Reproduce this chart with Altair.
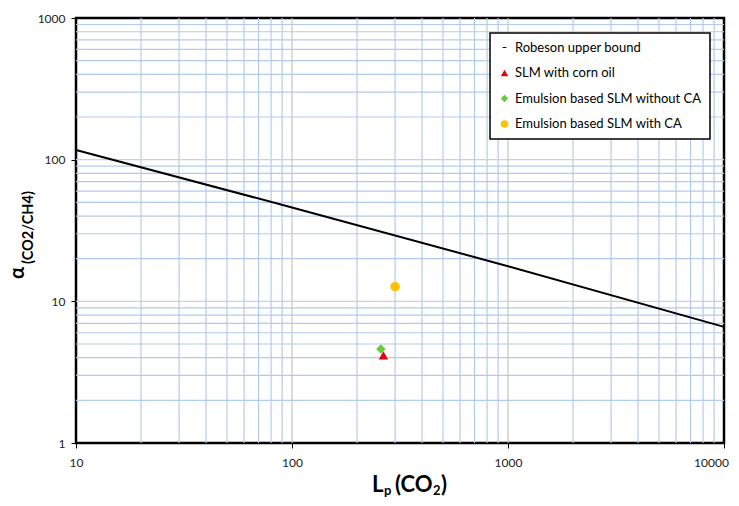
import altair as alt
import pandas as pd

# Robeson upper bound
robeson_x = [10, 100, 1000, 10000]
robeson_y = [117, 46, 17.7, 6.6]

# Experimental points
series = ["SLM with corn oil", "Emulsion based SLM without CA", "Emulsion based SLM with CA"]
lp_co2 = [265, 258, 300]
alpha = [4.15, 4.6, 12.7]

legend_names = ["Robeson upper bound", "SLM with corn oil",
                "Emulsion based SLM without CA", "Emulsion based SLM with CA"]
legend_colors = ["#000000", "#e8000b", "#66cc33", "#ffc000"]
legend_shapes = ["M-0.5,-0.13H0.5V0.13H-0.5Z", "triangle-up", "diamond", "circle"]

x_ticks = [10, 100, 1000, 10000]
y_ticks = [1, 10, 100, 1000]

x_minor = [k * 10 ** d for d in range(1, 4) for k in range(2, 10)]
y_minor = [k * 10 ** d for d in range(0, 3) for k in range(2, 10)]
x_major = [100, 1000]
y_major = [10, 100]

W, H = 648, 425
FONT = "Lato"

xs = alt.Scale(type="log", domain=[10, 10000], nice=False)
ys = alt.Scale(type="log", domain=[1, 1000], nice=False)

xgrid_minor = alt.Chart(pd.DataFrame({"v": x_minor})).mark_rule(
    color="#b3cbea", strokeWidth=1.2).encode(x=alt.X("v:Q", scale=xs))
ygrid_minor = alt.Chart(pd.DataFrame({"v": y_minor})).mark_rule(
    color="#b3cbea", strokeWidth=1.2).encode(y=alt.Y("v:Q", scale=ys))
xgrid_major = alt.Chart(pd.DataFrame({"v": x_major})).mark_rule(
    color="#c4c4c4", strokeWidth=1.2).encode(x=alt.X("v:Q", scale=xs))
ygrid_major = alt.Chart(pd.DataFrame({"v": y_major})).mark_rule(
    color="#d0d0d0", strokeWidth=1.2).encode(y=alt.Y("v:Q", scale=ys))

line = alt.Chart(pd.DataFrame({"x": robeson_x, "y": robeson_y})).mark_line(
    color="black", strokeWidth=2).encode(
    x=alt.X("x:Q", scale=xs,
            axis=alt.Axis(values=x_ticks, title=None, grid=False, format="d",
                          tickSize=5, labelPadding=9, domain=False, labelFlush=False,
                          labelOffset={"condition": {"test": "datum.value >= 10000", "value": -13},
                                       "value": 0},
                          tickColor="black", labelFontSize=12, labelFont=FONT,
                          labelColor="#222222")),
    y=alt.Y("y:Q", scale=ys,
            axis=alt.Axis(values=y_ticks, title=None, grid=False, format="d",
                          tickSize=5, labelPadding=6, domain=False, labelFlush=False,
                          tickColor="black", labelFontSize=12, labelFont=FONT,
                          labelColor="#222222")),
)

pts = alt.Chart(pd.DataFrame({"series": series, "x": lp_co2, "y": alpha})).mark_point(
    filled=True, size=90, opacity=1).encode(
    x=alt.X("x:Q", scale=xs),
    y=alt.Y("y:Q", scale=ys),
    color=alt.Color("series:N", scale=alt.Scale(domain=legend_names, range=legend_colors),
                    legend=alt.Legend(title=None, orient="none", legendX=414, legendY=15)),
    shape=alt.Shape("series:N", scale=alt.Scale(domain=legend_names, range=legend_shapes)),
)

def txt(s, x, y, size, angle=0, align="left", bold=True, baseline="alphabetic"):
    return alt.Chart(pd.DataFrame({"t": [s]})).mark_text(
        text=s, fontSize=size, font=FONT, fontWeight="bold" if bold else "normal",
        angle=angle, align=align, baseline=baseline, color="black").encode(
        x=alt.value(x), y=alt.value(y))

titles = [
    txt("α", -58, 255, 20, angle=270, align="center", baseline="middle"),
    txt("(CO2/CH4)", -43, 246, 14.5, angle=270),
    txt("L", 296, 474, 22),
    txt("p", 308, 477, 13),
    txt("(CO", 319, 474, 22),
    txt("2", 357, 477, 13),
    txt(")", 365, 474, 22),
]

chart = alt.layer(xgrid_minor, ygrid_minor, xgrid_major, ygrid_major, line, pts, *titles).properties(
    width=W, height=H,
    autosize=alt.AutoSizeParams(type="none"),
    padding={"left": 68, "top": 10, "right": 7, "bottom": 55},
).configure_view(stroke="black", strokeWidth=2.5).configure_legend(
    strokeColor="black", fillColor="white", padding=8, cornerRadius=0,
    labelFont=FONT, labelFontSize=13, labelColor="black", rowPadding=11.5,
    symbolSize=55, labelLimit=300, symbolOffset=0, strokeWidth=1.5,
)

chart.save("out.html", embed_options={"renderer": "svg", "actions": False})
